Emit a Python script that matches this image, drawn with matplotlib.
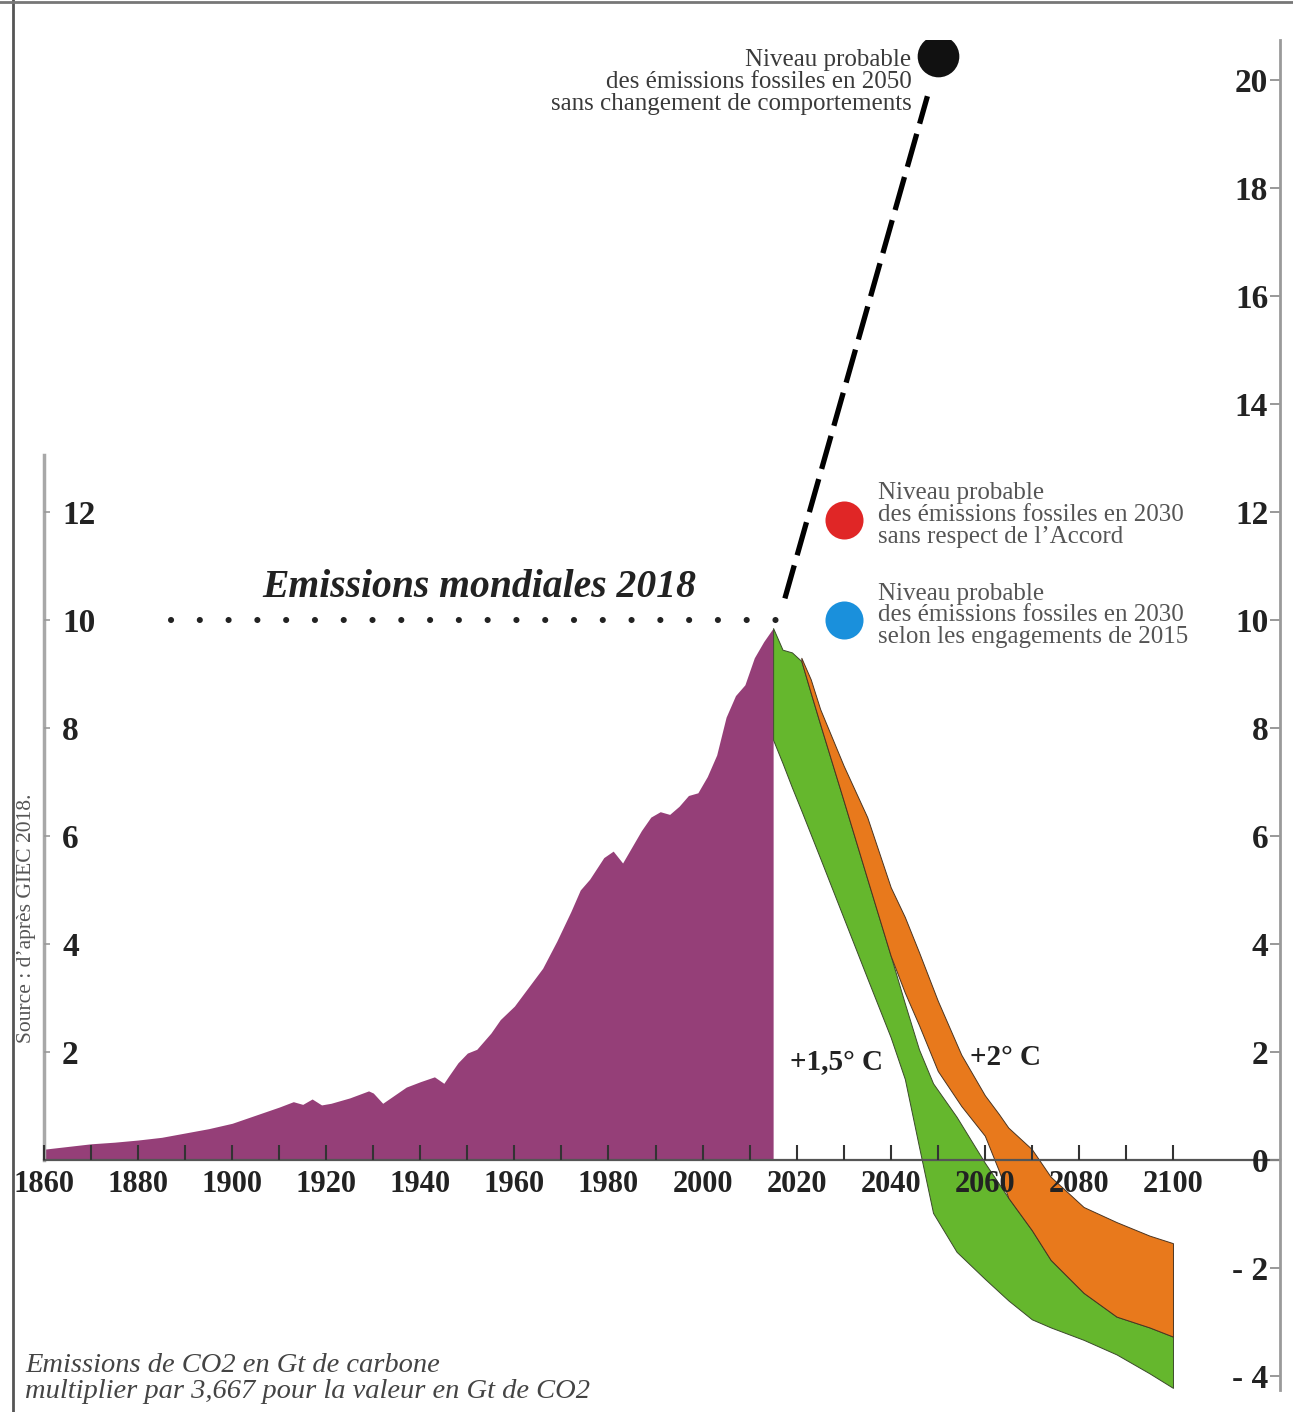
import matplotlib
matplotlib.use("Agg")
import matplotlib.pyplot as plt
from matplotlib.lines import Line2D

plt.rcParams['font.family'] = ['Liberation Serif', 'DejaVu Serif']

# ---------------- data ----------------
hist_years = [1860, 1865, 1870, 1875, 1880, 1885, 1890, 1895, 1900, 1905, 1910, 1913,
              1915, 1917, 1919, 1921, 1925, 1929, 1930, 1932, 1934, 1937, 1940, 1943,
              1945, 1946, 1948, 1950, 1952, 1955, 1957, 1960, 1963, 1966, 1969, 1972,
              1974, 1976, 1979, 1981, 1983, 1985, 1987, 1989, 1991, 1993, 1995, 1997,
              1999, 2001, 2003, 2005, 2007, 2009, 2011, 2013, 2015]
hist_values = [0.2, 0.25, 0.3, 0.33, 0.37, 0.42, 0.5, 0.58, 0.68, 0.83, 0.98, 1.08,
               1.03, 1.13, 1.02, 1.05, 1.15, 1.28, 1.24, 1.05, 1.17, 1.35, 1.45, 1.54,
               1.42, 1.55, 1.8, 1.98, 2.05, 2.35, 2.6, 2.85, 3.2, 3.55, 4.05, 4.6,
               5.0, 5.2, 5.6, 5.72, 5.5, 5.8, 6.1, 6.35, 6.45, 6.4, 6.55, 6.75,
               6.8, 7.1, 7.5, 8.2, 8.6, 8.8, 9.3, 9.6, 9.85]

# +1.5 °C pathway (green band)
g_years = [2015, 2017, 2019, 2021, 2023, 2025, 2030, 2035, 2040, 2043, 2046, 2049,
           2054, 2060, 2065, 2070, 2074, 2081, 2088, 2095, 2100]
g_low = [7.78, 7.35, 6.9, 6.47, 6.03, 5.59, 4.48, 3.37, 2.27, 1.5, 0.25, -0.98,
         -1.7, -2.2, -2.6, -2.95, -3.1, -3.33, -3.6, -3.95, -4.22]
g_high = [9.85, 9.45, 9.4, 9.24, 8.65, 8.07, 6.65, 5.21, 3.78, 2.9, 2.05, 1.42,
          0.8, -0.05, -0.7, -1.3, -1.85, -2.46, -2.9, -3.1, -3.27]

# +2 °C pathway (orange band)
o_years = [2021, 2023, 2025, 2030, 2035, 2040, 2043, 2046, 2050, 2055, 2060, 2063,
           2065, 2070, 2074, 2081, 2088, 2095, 2100]
o_low = [9.24, 8.65, 8.07, 6.65, 5.21, 3.78, 3.1, 2.5, 1.65, 1.0, 0.45, -0.2,
         -0.7, -1.3, -1.85, -2.46, -2.9, -3.1, -3.27]
o_high = [9.3, 8.9, 8.35, 7.3, 6.35, 5.05, 4.5, 3.85, 2.95, 1.95, 1.2, 0.85,
          0.6, 0.2, -0.31, -0.87, -1.15, -1.4, -1.54]

level_2018 = 10.0
dotted_x = [1887, 2019]
trend_x = [2017.5, 2047.8]
trend_y = [10.4, 19.7]

point_2050 = (2050, 20.45)
point_red = (2030, 11.85)
point_blue = (2030, 10.0)

left_ticks = [2, 4, 6, 8, 10, 12]
right_ticks = [-4, -2, 0, 2, 4, 6, 8, 10, 12, 14, 16, 18, 20]
right_labels = ['- 4', '- 2', '0', '2', '4', '6', '8', '10', '12', '14', '16', '18', '20']
x_major = list(range(1860, 2101, 20))
x_minor = list(range(1870, 2100, 20))

# ---------------- figure ----------------
W, H = 1293, 1412
fig = plt.figure(figsize=(W / 100, H / 100), dpi=100)
fig.patch.set_facecolor('white')

def fx(px):
    return px / W

def fy(py):
    return 1 - py / H

ax = fig.add_axes([fx(44), fy(1390), fx(1280) - fx(44), fy(40) - fy(1390)])
ax.set_xlim(1860, 1860 + (1280 - 44) / 4.704)
ax.set_ylim(-(1390 - 1160) / 54, (1160 - 40) / 54)
ax.patch.set_alpha(0)
ax.set_axisbelow(False)

purple = '#953f78'
green = '#65b72d'
orange = '#e8791c'

ax.fill_between(hist_years, 0, hist_values, color=purple, lw=0, zorder=2)
ax.fill_between(g_years, g_low, g_high, facecolor=green, edgecolor='#3a4a2a', lw=0.7, zorder=2)
ax.fill_between(o_years, o_low, o_high, facecolor=orange, edgecolor='#4a3420', lw=0.7, zorder=2)

# dotted 2018 level
ax.plot(dotted_x, [level_2018, level_2018], color='#222222', lw=4.4,
        linestyle=(0, (0.01, 4.7)), dash_capstyle='round', zorder=3)
ax.text(1952.5, 10.6, 'Emissions mondiales 2018', fontsize=28.5, fontweight='bold',
        fontstyle='italic', ha='center', va='center', color='#222222', zorder=4)

# dashed trend to 2050
ax.plot(trend_x, trend_y, color='black', lw=3.8, linestyle=(0, (6.5, 2.0)), zorder=3)

ax.scatter([point_2050[0]], [point_2050[1]], s=900, color='#111111', zorder=4, lw=0)
ax.scatter([point_red[0]], [point_red[1]], s=750, color='#e02626', zorder=4, lw=0)
ax.scatter([point_blue[0]], [point_blue[1]], s=750, color='#1a90dc', zorder=4, lw=0)

ax.text(2044.4, 19.96, 'Niveau probable\ndes émissions fossiles en 2050\nsans changement de comportements',
        fontsize=18, ha='right', va='center', color='#3a3a3a', linespacing=1.0)
ax.text(2037.3, 11.94, 'Niveau probable\ndes émissions fossiles en 2030\nsans respect de l’Accord',
        fontsize=18, ha='left', va='center', color='#555555', linespacing=1.0)
ax.text(2037.3, 10.09, 'Niveau probable\ndes émissions fossiles en 2030\nselon les engagements de 2015',
        fontsize=18, ha='left', va='center', color='#555555', linespacing=0.97)

ax.text(2028.4, 1.8, '+1,5° C', fontsize=21, fontweight='bold', ha='center', va='center',
        color='#222222', zorder=4)
ax.text(2064.3, 1.9, '+2° C', fontsize=21, fontweight='bold', ha='center', va='center',
        color='#222222', zorder=4)

# spines
ax.spines['top'].set_visible(False)
ax.spines['bottom'].set_position(('data', 0))
ax.spines['bottom'].set_color('#555555')
ax.spines['bottom'].set_linewidth(1.6)
ax.spines['left'].set_bounds(0, 13.05)
ax.spines['left'].set_color('#a8a8a8')
ax.spines['left'].set_linewidth(2.5)
ax.spines['right'].set_visible(False)

ax.set_xticks(x_major)
ax.set_xticks(x_minor, minor=True)
ax.set_xticklabels([str(v) for v in x_major])
ax.tick_params(axis='x', which='both', direction='in', length=11, width=1.5,
               color='#333333', pad=7, labelsize=22, labelcolor='#222222')
for lbl in ax.get_xticklabels():
    lbl.set_fontweight('bold')

ax.set_yticks(left_ticks)
ax.set_yticklabels([str(v) for v in left_ticks])
ax.tick_params(axis='y', which='both', direction='in', length=4, width=1.2,
               color='#999999', pad=-13, labelsize=24, labelcolor='#222222')
for lbl in ax.get_yticklabels():
    lbl.set_fontweight('bold')
    lbl.set_ha('left')

# right axis
ax2 = ax.twinx()
ax2.set_ylim(ax.get_ylim())
ax2.xaxis.set_visible(False)
for s in ['top', 'left', 'bottom']:
    ax2.spines[s].set_visible(False)
ax2.spines['right'].set_color('#9a9a9a')
ax2.spines['right'].set_linewidth(2)
ax2.set_yticks(right_ticks)
ax2.set_yticklabels(right_labels)
ax2.tick_params(axis='y', direction='in', length=7, width=1.2, color='#888888',
                pad=-8.5, labelsize=24, labelcolor='#222222')
for lbl in ax2.get_yticklabels():
    lbl.set_fontweight('bold')
    lbl.set_ha('right')

# source & note
fig.text(fx(27), fy(918), 'Source : d’après GIEC 2018.', rotation=90, fontsize=15.5,
         color='#555555', ha='center', va='center')
fig.text(fx(25), fy(1378.5), 'Emissions de CO2 en Gt de carbone\nmultiplier par 3,667 pour la valeur en Gt de CO2',
         fontsize=20.5, fontstyle='italic', color='#444444', ha='left', va='center', linespacing=1.0)

# frame lines
fig.add_artist(Line2D([fx(12.5), fx(12.5)], [0, 1], color='#555555', lw=2))
fig.add_artist(Line2D([0, 1], [fy(1.5), fy(1.5)], color='#777777', lw=2))

fig.savefig('out.png', dpi=100)
